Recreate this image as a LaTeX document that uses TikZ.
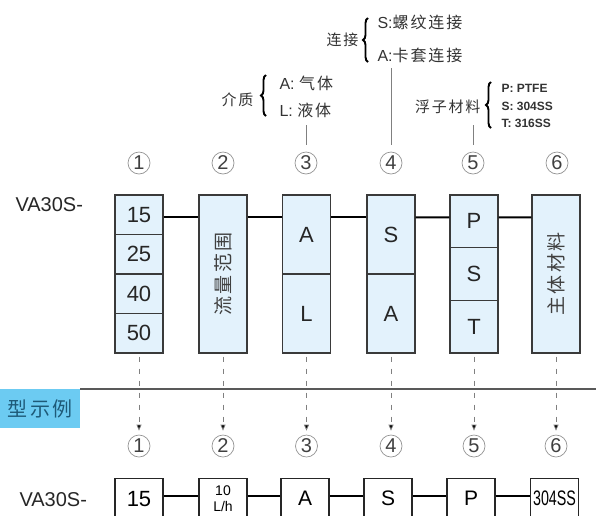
\documentclass[tikz,border=0pt]{standalone}
\usepackage{fontspec}
\setmainfont{Liberation Sans}
\newfontfamily\cjk{Noto Sans CJK SC}
\newfontfamily\cjksp[LetterSpace=12]{Noto Sans CJK SC}
\usetikzlibrary{arrows.meta,decorations.pathreplacing}
\definecolor{boxfill}{HTML}{E3F2FC}
\definecolor{lblue}{HTML}{6CCBF2}
\definecolor{ltext}{HTML}{1E5A78}
\definecolor{edge}{HTML}{3A3A3A}
\newcommand\fsz[1]{\fontsize{#1}{#1}\selectfont}
\tikzset{
  cell/.style={draw=edge, line width=1.1pt, fill=boxfill, minimum width=48pt, inner sep=0pt, font=\fsz{22}, text=black!85},
  num/.style={circle, draw=gray!85, line width=0.7pt, minimum size=22pt, inner sep=0pt, font=\fsz{20}, text=black!75},
  conn/.style={line width=2pt, black},
  dline/.style={draw=gray, line width=0.8pt, dash pattern=on 5pt off 7pt, -{Triangle[width=5pt,length=6pt,fill=black]}},
  obox/.style={draw=black!85, line width=1.1pt, fill=white, minimum width=48pt, minimum height=40pt, anchor=north, inner sep=0pt, font=\fsz{22}},
  brc/.style={decorate, decoration={brace, amplitude=5pt}, line width=1.9pt},
  lead/.style={draw=gray, line width=0.8pt},
  zh/.style={font=\cjksp\fsz{15}, text=black!80},
  lat/.style={font=\fsz{16}, text=black!80},
  sm/.style={font=\bfseries\fsz{12}, text=black!80}
}
\begin{document}
\begin{tikzpicture}[x=1pt,y=-1pt]
\useasboundingbox (0,0) rectangle (596,515);
\clip (0,0) rectangle (596,515);

% ---- top labels
\node[zh, anchor=east] (lk) at (362,40) {连接};
\draw[brc] (368,62) -- (368,18);
\node[lat, anchor=west] (lks) at (374,22) {S:{\cjksp 螺纹连接}};
\node[lat, anchor=west] (lka) at (374,55) {A:{\cjksp 卡套连接}};

\node[zh, anchor=east] (jz) at (257,100) {介质};
\draw[brc] (266,116) -- (266,75);
\node[lat, anchor=west] (jza) at (276,83) {A: {\cjksp 气体}};
\node[lat, anchor=west] (jzl) at (276,110) {L: {\cjksp 液体}};

\node[zh, anchor=east] (fz) at (484,107) {浮子材料};
\draw[brc] (491,128) -- (491,82);
\node[sm, anchor=west] (fzp) at (498,88) {P: PTFE};
\node[sm, anchor=west] (fzs) at (498,106) {S: 304SS};
\node[sm, anchor=west] (fzt) at (498,123) {T: 316SS};

% ---- top circles
\node[num] (t1) at (139,163) {1};
\node[num] (t2) at (223,163) {2};
\node[num] (t3) at (306,163) {3};
\node[num] (t4) at (391,163) {4};
\node[num] (t5) at (473,163) {5};
\node[num] (t6) at (557,163) {6};

\draw[lead] ([yshift=7pt]t3.north) -- ([yshift=27pt]t3.north);
\draw[lead] ([yshift=7pt]t4.north) -- ([yshift=84pt]t4.north);
\draw[lead] ([yshift=7pt]t5.north) -- ([yshift=27pt]t5.north);

\node[anchor=west, font=\fsz{20}, text=black!85] (m1) at (12,205) {VA30S-};

% ---- top boxes
\node[cell, minimum height=39.5pt] (b1a) at (139,214.75) {15};
\node[cell, minimum height=39.5pt] (b1b) at (139,254.25) {25};
\node[cell, minimum height=39.5pt] (b1c) at (139,293.75) {40};
\node[cell, minimum height=39.5pt] (b1d) at (139,333.25) {50};

\node[cell, minimum height=158pt] (b2) at (223,274) {};
\node[rotate=90, font=\cjksp\fsz{19}, text=black!75] (b2t) at (b2.center) {流量范围};

\node[cell, minimum height=79pt] (b3a) at (306.5,234.5) {A};
\node[cell, minimum height=79pt] (b3b) at (306.5,313.5) {L};

\node[cell, minimum height=79pt] (b4a) at (391,234.5) {S};
\node[cell, minimum height=79pt] (b4b) at (391,313.5) {A};

\node[cell, minimum height=52.67pt] (b5a) at (474,221.33) {P};
\node[cell, minimum height=52.67pt] (b5b) at (474,274) {S};
\node[cell, minimum height=52.67pt] (b5c) at (474,326.67) {T};

\node[cell, minimum height=158pt] (b6) at (556,274) {};
\node[rotate=90, font=\cjksp\fsz{19}, text=black!75] (b6t) at (b6.center) {主体材料};

\draw[conn] ([yshift=-23pt]b1a.north east) -- ([yshift=-23pt]b2.north west);
\draw[conn] ([yshift=-23pt]b2.north east) -- ([yshift=-23pt]b3a.north west);
\draw[conn] ([yshift=-23pt]b3a.north east) -- ([yshift=-23pt]b4a.north west);
\draw[conn] ([yshift=-23pt]b4a.north east) -- ([yshift=-23pt]b5a.north west);
\draw[conn] ([yshift=-23pt]b5a.north east) -- ([yshift=-23pt]b6.north west);

% ---- separator and example label
\node[fill=lblue, minimum width=80pt, minimum height=39pt, inner sep=0pt, anchor=north west, font=\cjksp\fsz{20}, text=ltext] (ex) at (0,389) {型示例};
\coordinate (re) at (596,389);
\draw[line width=1.4pt, black!65] (ex.north east) -- (re);

% ---- bottom circles
\node[num] (u1) at (139,446) {1};
\node[num] (u2) at (223,446) {2};
\node[num] (u3) at (306.5,446) {3};
\node[num] (u4) at (391,446) {4};
\node[num] (u5) at (474,446) {5};
\node[num] (u6) at (556,446) {6};

\draw[dline, shorten <=3pt, shorten >=4pt] (b1d.south) -- (u1.north);
\draw[dline, shorten <=3pt, shorten >=4pt] (b2.south) -- (u2.north);
\draw[dline, shorten <=3pt, shorten >=4pt] (b3b.south) -- (u3.north);
\draw[dline, shorten <=3pt, shorten >=4pt] (b4b.south) -- (u4.north);
\draw[dline, shorten <=3pt, shorten >=4pt] (b5c.south) -- (u5.north);
\draw[dline, shorten <=3pt, shorten >=4pt] (b6.south) -- (u6.north);

% ---- bottom example
\node[anchor=west, font=\fsz{20}, text=black!85] (m2) at (16,500) {VA30S-};
\node[obox] (o1) at (139,478) {15};
\node[obox] (o2) at (223,478) {};
\node[inner sep=0pt, font=\fsz{14}, anchor=base] (o2a) at (223,495) {10};
\node[inner sep=0pt, font=\fsz{14}, anchor=base] (o2b) at (223,511) {L/h};
\node[obox, font=\fsz{21}] (o3) at (305,478) {A};
\node[obox, font=\fsz{21}] (o4) at (388,478) {S};
\node[obox, font=\fsz{21}] (o5) at (471,478) {P};
\node[obox, font=\fsz{21}] (o6) at (554.5,478) {\scalebox{0.68}[1]{304SS}};

\draw[conn] ([yshift=-18pt]o1.north east) -- ([yshift=-18pt]o2.north west);
\draw[conn] ([yshift=-18pt]o2.north east) -- ([yshift=-18pt]o3.north west);
\draw[conn] ([yshift=-18pt]o3.north east) -- ([yshift=-18pt]o4.north west);
\draw[conn] ([yshift=-18pt]o4.north east) -- ([yshift=-18pt]o5.north west);
\draw[conn] ([yshift=-18pt]o5.north east) -- ([yshift=-18pt]o6.north west);
\end{tikzpicture}
\end{document}
